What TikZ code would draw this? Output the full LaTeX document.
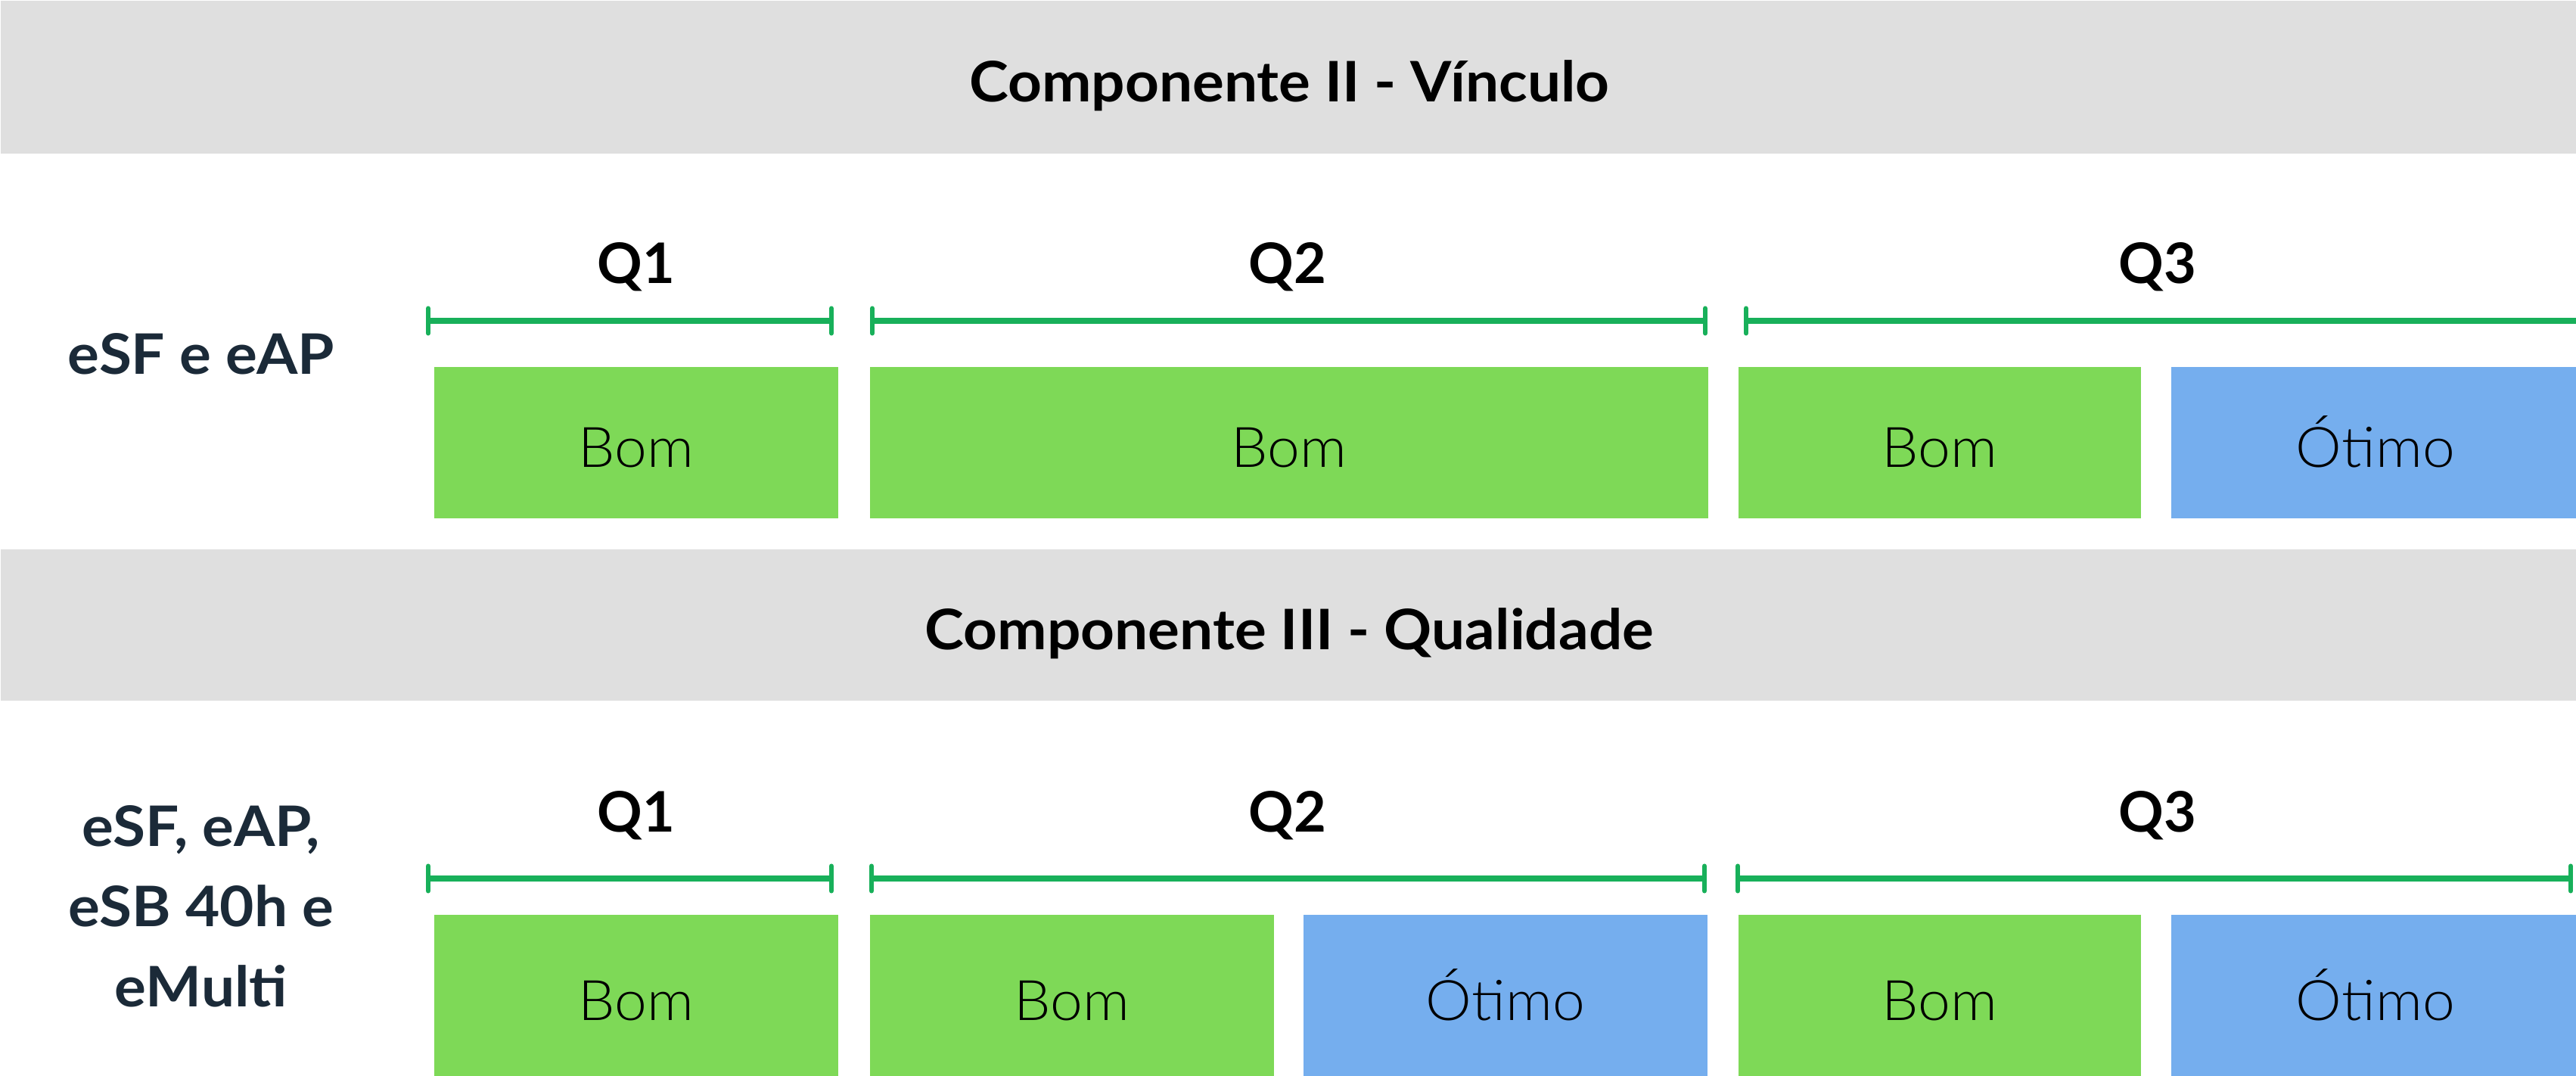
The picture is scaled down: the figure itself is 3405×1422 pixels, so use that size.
\documentclass[tikz,border=0pt]{standalone}
\usepackage{fontspec}
\setmainfont{Lato}[FakeStretch=1.06]
\newfontfamily\lightfont{Lato Light}[FakeStretch=1.04]
\newfontfamily\qfont{Lato}
\usetikzlibrary{arrows.meta}
\definecolor{bandgray}{HTML}{DFDFDF}
\definecolor{bomfill}{HTML}{7ED957}
\definecolor{otimofill}{HTML}{75AEEE}
\definecolor{bargreen}{HTML}{18B05A}
\definecolor{labelnavy}{HTML}{1B2A38}
\tikzset{qtick/.tip={Bar[width=0.33cm, line width=0.06cm, round]}}
\begin{document}
\begin{tikzpicture}[x=0.01cm,y=-0.01cm,
  band/.style={fill=bandgray, anchor=north west, minimum width=34.05cm, inner sep=0,
    text height=0.65cm, text depth=0pt, font=\fontsize{21}{25}\selectfont\bfseries},
  qlab/.style={font=\qfont\fontsize{21}{25}\selectfont\bfseries, anchor=base, inner sep=0},
  rowlab/.style={font=\fontsize{21}{30.2}\selectfont\bfseries, text=labelnavy, align=center, inner sep=0},
  cell/.style={anchor=north west, inner sep=0, text height=0.66cm, text depth=0pt,
    font=\lightfont\fontsize{21}{25}\selectfont},
  bom/.style={cell, fill=bomfill},
  otimo/.style={cell, fill=otimofill},
  qbar/.style={draw=bargreen, line width=0.08cm},
]
\useasboundingbox (0,0) rectangle (3405,1422);

% header bands
\node[band, minimum height=2.02cm] (h1) at (0,0) {Componente II - Vínculo};
\node[band, minimum height=2.00cm] (h2) at (0,725) {Componente III - Qualidade};

% row labels
\node[rowlab, anchor=base] (r1) at (266,495) {eSF e eAP};
\node[rowlab, anchor=center] (r2) at (266,1198) {eSF, eAP,\\eSB 40h e\\eMulti};

% section 1
\node[qlab] (a1) at (841,375) {Q1};
\node[qlab] (a2) at (1702,375) {Q2};
\node[qlab] (a3) at (2852,375) {Q3};
\coordinate (a1l) at (563,424); \coordinate (a1r) at (1102,424);
\coordinate (a2l) at (1150,424); \coordinate (a2r) at (2257,424);
\coordinate (a3l) at (2305,424); \coordinate (a3r) at (3440,424);
\draw[qbar, {qtick}-{qtick}] (a1l) -- (a1r);
\draw[qbar, {qtick}-{qtick}] (a2l) -- (a2r);
\draw[qbar, {qtick}-] (a3l) -- (a3r);

\node[bom, minimum width=5.34cm, minimum height=2cm] (b11) at (573,484) {Bom};
\node[bom, minimum width=11.08cm, minimum height=2cm] (b12) at (1149,484) {Bom};
\node[bom, minimum width=5.32cm, minimum height=2cm] (b13) at (2297,484) {Bom};
\node[otimo, minimum width=5.40cm, minimum height=2cm] (b14) at (2869,484) {Ótimo};

% section 2
\node[qlab] (c1) at (841,1099) {Q1};
\node[qlab] (c2) at (1702,1099) {Q2};
\node[qlab] (c3) at (2852,1099) {Q3};
\coordinate (c1l) at (563,1161); \coordinate (c1r) at (1102,1161);
\coordinate (c2l) at (1149,1161); \coordinate (c2r) at (2256,1161);
\coordinate (c3l) at (2294,1161); \coordinate (c3r) at (3401,1161);
\draw[qbar, {qtick}-{qtick}] (c1l) -- (c1r);
\draw[qbar, {qtick}-{qtick}] (c2l) -- (c2r);
\draw[qbar, {qtick}-{qtick}] (c3l) -- (c3r);

\node[bom, minimum width=5.34cm, minimum height=2.14cm] (d11) at (573,1208) {Bom};
\node[bom, minimum width=5.34cm, minimum height=2.14cm] (d12) at (1149,1208) {Bom};
\node[otimo, minimum width=5.34cm, minimum height=2.14cm] (d13) at (1722,1208) {Ótimo};
\node[bom, minimum width=5.32cm, minimum height=2.14cm] (d14) at (2297,1208) {Bom};
\node[otimo, minimum width=5.40cm, minimum height=2.14cm] (d15) at (2869,1208) {Ótimo};
\end{tikzpicture}
\end{document}
